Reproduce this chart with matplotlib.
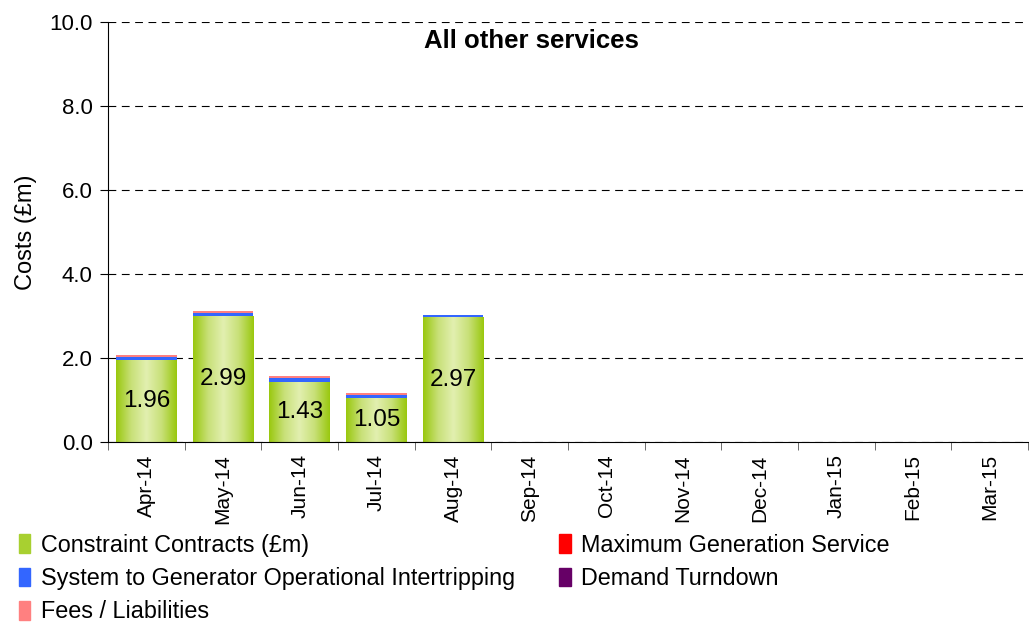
"""All other services - monthly costs, stacked bars with a gradient on the constraint contracts."""
import numpy as np
import matplotlib
matplotlib.use("Agg")
import matplotlib.pyplot as plt
from matplotlib.colors import LinearSegmentedColormap
from matplotlib.patches import Patch

plt.rcParams["font.family"] = ["Liberation Sans", "DejaVu Sans"]

months = ["Apr-14", "May-14", "Jun-14", "Jul-14", "Aug-14", "Sep-14",
          "Oct-14", "Nov-14", "Dec-14", "Jan-15", "Feb-15", "Mar-15"]
constraint = [1.96, 2.99, 1.43, 1.05, 2.97, 0, 0, 0, 0, 0, 0, 0]
max_gen = [0, 0, 0, 0, 0, 0, 0, 0, 0, 0, 0, 0]
intertrip = [0.07, 0.07, 0.08, 0.07, 0.05, 0, 0, 0, 0, 0, 0, 0]
demand_turndown = [0, 0, 0, 0, 0, 0, 0, 0, 0, 0, 0, 0]
fees = [0.05, 0.05, 0.05, 0.04, 0.0, 0, 0, 0, 0, 0, 0, 0]

fig = plt.figure(figsize=(10.29, 6.25), dpi=100)
ax = fig.add_axes([0.105, 0.293, 0.894, 0.672])

x = np.arange(len(months))
width = 0.79

green_cmap = LinearSegmentedColormap.from_list(
    "grn", ["#99c80e", "#c8e078", "#e2efb0", "#c8e078", "#99c80e"])
grad = np.linspace(0, 1, 256).reshape(1, -1)

bars = ax.bar(x, constraint, width, color="#c0dc60", zorder=2)
for b in bars:
    if b.get_height() <= 0:
        continue
    x0, y0 = b.get_x(), b.get_y()
    im = ax.imshow(grad, cmap=green_cmap, aspect="auto", zorder=2,
                   extent=[x0, x0 + b.get_width(), y0, y0 + b.get_height()])
    im.set_clip_path(b)
    b.set_facecolor("none")

bottom = np.array(constraint, dtype=float)
layers = [(max_gen, "#ff0000"), (intertrip, "#3366ff"),
          (demand_turndown, "#660066"), (fees, "#ff8080")]
for vals, col in layers:
    ax.bar(x, vals, width, bottom=bottom, color=col, zorder=2)
    bottom = bottom + np.array(vals)

ax.bar_label(bars, labels=[f"{v:.2f}" if v > 0 else "" for v in constraint],
             label_type="center", fontsize=17.5)

ax.set_xlim(-0.5, len(months) - 0.5)
ax.set_ylim(0, 10)
ax.set_yticks(np.arange(0, 10.1, 2))
ax.set_yticklabels([f"{v:.1f}" for v in np.arange(0, 10.1, 2)], fontsize=16)
ax.yaxis.grid(True, linestyle=(0, (7, 5)), color="black", linewidth=0.8)
ax.set_axisbelow(True)

ax.set_xticks(x)
ax.set_xticklabels(months, rotation=90, fontsize=15)
ax.tick_params(axis="x", length=0, pad=9)
ax.set_xticks(np.arange(-0.5, len(months), 1), minor=True)
ax.tick_params(axis="x", which="minor", length=6, color="#555555")
ax.tick_params(axis="y", length=6, pad=5)

for s in ["top", "right"]:
    ax.spines[s].set_visible(False)

ax.set_ylabel("Costs (£m)", fontsize=17, labelpad=9)
ax.text(0.46, 0.955, "All other services", transform=ax.transAxes,
        ha="center", va="center", fontsize=18.5, fontweight="bold")

handles = [Patch(color="#a8d030"), Patch(color="#3366ff"), Patch(color="#ff8080"),
           Patch(color="#ff0000"), Patch(color="#660066")]
labels = ["Constraint Contracts (£m)", "System to Generator Operational Intertripping",
          "Fees / Liabilities", "Maximum Generation Service", "Demand Turndown"]
fig.legend(handles, labels, ncol=2, loc="upper left", bbox_to_anchor=(0.018, 0.146),
           frameon=False, fontsize=16.8, handlelength=0.5, handleheight=0.85,
           handletextpad=0.45, columnspacing=1.9, labelspacing=0.44,
           borderaxespad=0, borderpad=0)

fig.savefig("out.png", dpi=100)
